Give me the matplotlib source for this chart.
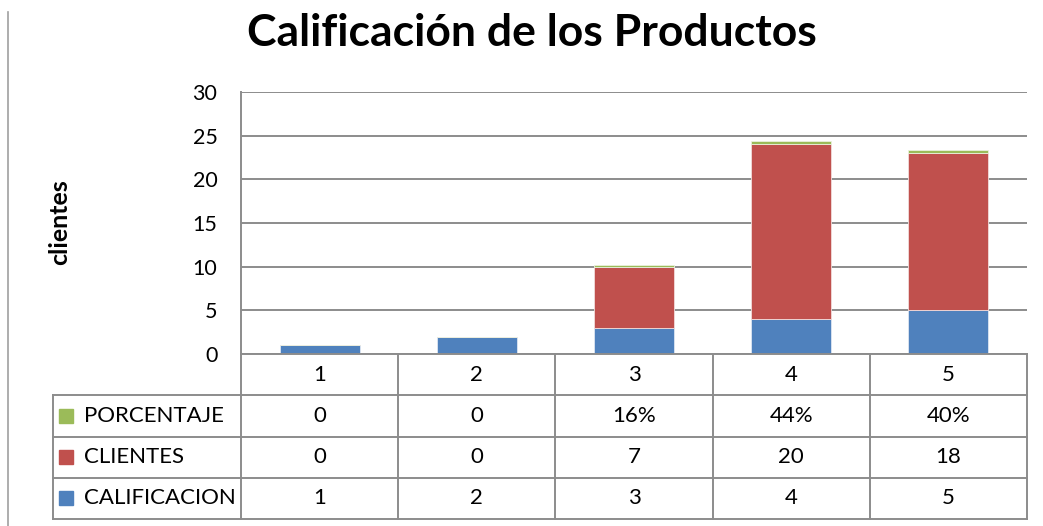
import numpy as np
import matplotlib.pyplot as plt
from matplotlib.lines import Line2D

plt.rcParams['font.family'] = ['Lato', 'DejaVu Sans']

categorias = ["1", "2", "3", "4", "5"]
calificacion = [1, 2, 3, 4, 5]
clientes = [0, 0, 7, 20, 18]
porcentaje = [0, 0, 0.16, 0.44, 0.40]
porcentaje_txt = ["0", "0", "16%", "44%", "40%"]

# table rows, top to bottom
filas = [
    ("PORCENTAJE", porcentaje_txt, "#9BBB59"),
    ("CLIENTES", [str(v) for v in clientes], "#C0504D"),
    ("CALIFICACION", [str(v) for v in calificacion], "#4F81BD"),
]

W, H = 1043, 526
fig = plt.figure(figsize=(W / 100, H / 100), dpi=100)
fig.patch.set_facecolor("white")

def box(l, t, r, b):
    return [l / W, 1 - b / H, (r - l) / W, (b - t) / H]

gris = "#8c8c8c"

# --- chart
ax = fig.add_axes(box(241, 92, 1027, 354))
x = np.arange(1, len(categorias) + 1)
ancho = 0.51
ax.bar(x, calificacion, ancho, color="#4F81BD", edgecolor="#dde6f2", linewidth=0.6)
ax.bar(x, clientes, ancho, bottom=calificacion, color="#C0504D", edgecolor="#f2dcdb", linewidth=0.6)
base2 = np.array(calificacion) + np.array(clientes)
ax.bar(x, porcentaje, ancho, bottom=base2, color="#9BBB59", edgecolor="#ebf1de", linewidth=0.6)

ax.set_xlim(0.5, len(categorias) + 0.5)
ax.set_ylim(0, 30)
ax.set_yticks(range(0, 31, 5))
ax.set_xticks([])
ax.yaxis.grid(True, color=gris, linewidth=1.4)
ax.set_axisbelow(True)
for s in ["top", "right", "bottom"]:
    ax.spines[s].set_visible(False)
ax.spines["left"].set_color(gris)
ax.spines["left"].set_linewidth(1.4)
ax.tick_params(axis="y", length=0, pad=17, labelsize=15.5)

fig.text(60 / W, 1 - 222 / H, "clientes", rotation=90, fontsize=18,
         fontweight="bold", ha="center", va="center")
fig.text(532 / W, 1 - 33 / H, "Calificación de los Productos", fontsize=32,
         fontweight="bold", ha="center", va="center")

# --- data table
tax = fig.add_axes(box(53, 354, 1027, 519))
x0 = 0.5 - (241 - 53) / 157.2
n = len(categorias)
tax.set_xlim(x0, n + 0.5)
tax.set_ylim(0, 4)
tax.axis("off")

kw = dict(color=gris, linewidth=1.4, clip_on=False)
tax.add_line(Line2D([0.5, n + 0.5], [4, 4], **kw))
for yy in [3, 2, 1, 0]:
    tax.add_line(Line2D([x0, n + 0.5], [yy, yy], **kw))
for xx in np.arange(0.5, n + 1, 1.0):
    tax.add_line(Line2D([xx, xx], [0, 4], **kw))
tax.add_line(Line2D([x0, x0], [0, 3], **kw))

for i, c in enumerate(categorias):
    tax.text(i + 1, 3.5, c, ha="center", va="center", fontsize=16)

for k, (nombre, vals, color) in enumerate(filas):
    yy = 2.5 - k
    tax.plot([x0 + 0.08], [yy], marker="s", ms=9.5, color=color, clip_on=False)
    tax.text(x0 + 0.195, yy, nombre, ha="left", va="center", fontsize=16)
    for i, v in enumerate(vals):
        tax.text(i + 1, yy, v, ha="center", va="center", fontsize=16)

# left border line
fig.add_artist(Line2D([8 / W, 8 / W], [0, 1 - 12 / H], color="#a0a0a0", linewidth=1.2))

fig.savefig("out.png", dpi=100, facecolor="white")
